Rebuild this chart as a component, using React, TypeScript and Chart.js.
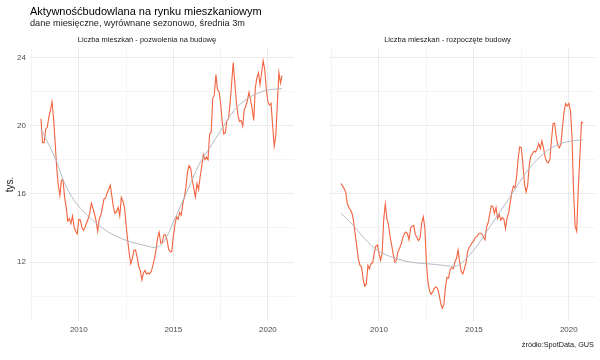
import React, { useEffect, useRef } from "react";
import { Chart, registerables } from "chart.js";

Chart.register(...registerables);

const FONT = "'Liberation Sans', Arial, Helvetica, sans-serif";
const FIRST_YEAR = 2008;

// Liczba mieszkań - pozwolenia na budowę (tys., monthly from Jan 2008)
const permitsValues = [
  20.4, 19.0, 19.0, 19.8, 19.9, 20.5, 20.9, 21.4, 20.4, 19.0, 17.5, 16.5,
  15.9, 16.8, 16.8, 15.8, 15.2, 14.4, 14.55, 14.25, 14.7, 14.05, 13.8, 13.65,
  14.5, 14.45, 14.0, 13.85, 14.05, 14.3, 14.55, 14.9, 15.45, 15.15, 14.8, 14.4,
  13.8, 14.55, 14.75, 15.2, 15.7, 15.75, 16.05, 16.25, 16.5, 15.85, 15.2, 14.85,
  14.95, 15.2, 14.7, 15.8, 15.55, 15.2, 14.2, 13.3, 12.5, 11.9, 12.2, 12.7,
  12.7, 12.3, 11.75, 11.5, 10.95, 11.35, 11.5, 11.3, 11.36, 11.3, 11.45, 11.8,
  12.2, 12.7, 13.4, 13.75, 13.1, 13.15, 13.6, 13.6, 13.3, 12.75, 12.6, 12.6,
  13.5, 14.2, 14.65, 14.5, 14.9, 14.75, 15.4, 15.8, 16.4, 17.3, 17.65, 17.5,
  16.8, 16.3, 15.8, 16.6, 16.25, 17.0, 17.6, 18.3, 18.0, 18.15, 18.0, 19.5,
  19.6, 21.6, 21.8, 23.0, 22.1, 22.0, 21.3, 20.2, 19.5, 19.6, 20.3, 20.4,
  21.3, 22.5, 23.7, 22.5, 21.4, 20.6, 20.25, 20.3, 19.96, 20.95, 21.15, 21.5,
  21.95, 21.5, 21.0, 20.3, 22.2, 22.8, 23.1, 22.4, 23.1, 23.8, 23.3, 22.1,
  21.4, 21.2, 21.3, 20.0, 18.8, 19.4, 21.3, 23.1, 22.5, 22.95,
];

// Liczba mieszkań - rozpoczęte budowy (tys., monthly from Jan 2008)
const startsValues = [
  16.6, 16.45, 16.3, 16.1, 15.4, 15.2, 15.05, 14.85, 14.35, 13.6, 12.9, 12.15,
  11.8, 11.7, 11.0, 10.58, 10.7, 11.8, 11.6, 11.9, 11.95, 12.5, 12.93, 13.0,
  12.5, 12.1, 12.5, 14.5, 15.4, 14.55, 14.2, 13.5, 13.0, 12.45, 12.0, 12.1,
  12.6, 12.8, 13.05, 13.4, 13.65, 13.76, 13.67, 13.3, 14.0, 14.1, 14.15, 13.6,
  13.45, 13.25, 13.4, 14.3, 14.65, 14.0, 11.9, 10.8, 10.3, 10.1, 10.25, 10.45,
  10.55, 10.45, 10.1, 9.6, 9.28, 9.5, 10.5, 11.1, 11.05, 11.55, 11.68, 11.6,
  12.0, 12.2, 12.7, 12.0, 11.45, 11.3, 11.6, 11.95, 12.6, 12.85, 13.0, 13.15,
  13.25, 13.45, 13.5, 13.65, 13.7, 13.65, 13.5, 13.3, 14.05, 14.3, 14.8, 15.3,
  15.25, 14.85, 15.2, 14.55, 14.8, 14.45, 14.6, 14.5, 13.95, 14.6, 14.9, 15.5,
  16.1, 16.45, 16.35, 17.0, 18.1, 18.75, 18.7, 17.7, 16.6, 16.1, 16.5, 17.7,
  18.2, 18.35, 18.5, 18.45, 18.65, 18.94, 18.65, 19.1, 18.7, 18.16, 17.87, 17.82,
  18.0, 19.1, 20.1, 20.15, 19.4, 18.85, 18.7, 18.9, 19.9, 20.8, 21.3, 21.15,
  21.3, 20.9, 19.4, 16.2, 14.1, 13.8, 16.3, 18.2, 20.2, 20.15,
];

// smoothed trend lines
const permitsTrendYears = [2008.0, 2008.8, 2009.22, 2009.75, 2010.46, 2011.16, 2011.87, 2012.57, 2012.93, 2013.63, 2013.98, 2014.34, 2014.69, 2015.04, 2015.4, 2015.75, 2016.1, 2016.45, 2016.9, 2017.51, 2018.22, 2018.92, 2019.63, 2020.16, 2020.75];
const permitsTrendValues = [19.8, 17.96, 16.7, 15.62, 14.74, 14.06, 13.57, 13.24, 13.12, 12.93, 12.85, 12.98, 13.57, 14.45, 15.33, 16.2, 17.1, 17.9, 18.65, 19.72, 20.9, 21.58, 21.97, 22.12, 22.16];
const startsTrendYears = [2008.0, 2008.63, 2009.16, 2009.68, 2010.21, 2010.91, 2011.62, 2012.5, 2013.02, 2013.9, 2014.17, 2014.6, 2015.13, 2015.66, 2016.19, 2016.89, 2017.77, 2018.47, 2019.17, 2019.87, 2020.75];
const startsTrendValues = [14.85, 14.16, 13.47, 12.89, 12.5, 12.2, 12.0, 11.9, 11.85, 11.75, 11.8, 12.2, 12.89, 13.76, 14.64, 15.8, 17.28, 18.16, 18.75, 19.04, 19.17];

const yTicks = [10, 12, 14, 16, 18, 20, 22, 24];
const yLabelled = [12, 16, 20, 24];
const xTicks = [2007.5, 2010, 2012.5, 2015, 2017.5, 2020];
const xLabelled = [2010, 2015, 2020];

const panelTitles = ["Liczba mieszkań - pozwolenia na budowę", "Liczba mieszkań - rozpoczęte budowy"];
const chartTitle = "Aktywnośćbudowlana na rynku mieszkaniowym";
const chartSubtitle = "dane miesięczne, wyrównane sezonowo, średnia 3m";
const yTitle = "tys.";
const caption = "źródło:SpotData, GUS";

const X_MIN = 2007.42;
const X_MAX = 2021.38;
const Y_MIN = 8.54;
const Y_MAX = 24.55;

const LINE_COLOR = "#F3633F";
const TREND_COLOR = "#A9B4BE";
const GRID_COLOR = "#EBEBEB";

function toPoints(values: number[]) {
  return values.map((v, i) => ({ x: FIRST_YEAR + i / 12, y: v }));
}

type PanelProps = {
  title: string;
  values: number[];
  trendX: number[];
  trendY: number[];
  showY: boolean;
  left: number;
  padRight: number;
};

function Panel({ title, values, trendX, trendY, showY, left, padRight }: PanelProps) {
  const ref = useRef<HTMLCanvasElement>(null);
  useEffect(() => {
    const chart = new Chart(ref.current as HTMLCanvasElement, {
      type: "line",
      data: {
        datasets: [
          {
            data: trendX.map((x, i) => ({ x, y: trendY[i] })),
            borderColor: TREND_COLOR,
            borderWidth: 0.9,
            pointRadius: 0,
            cubicInterpolationMode: "monotone",
            order: 0,
          } as any,
          {
            data: toPoints(values),
            borderColor: LINE_COLOR,
            borderWidth: 1.1,
            pointRadius: 0,
            tension: 0,
            order: 1,
          },
        ],
      },
      options: {
        animation: false,
        responsive: false,
        maintainAspectRatio: false,
        layout: { padding: { top: 30, right: padRight, bottom: 0, left: 0 } },
        plugins: {
          legend: { display: false },
          tooltip: { enabled: false },
          title: {
            display: true,
            text: title,
            color: "#1a1a1a",
            font: { size: 7.5, family: FONT, weight: "normal" },
            padding: { top: 5.5, bottom: 3.5 },
          },
        },
        scales: {
          x: {
            type: "linear",
            min: X_MIN,
            max: X_MAX,
            afterBuildTicks: (s: any) => {
              s.ticks = xTicks.map((v) => ({ value: v }));
            },
            afterFit: (s: any) => {
              s.height = 39;
            },
            ticks: {
              autoSkip: false,
              maxRotation: 0,
              padding: 3.5,
              color: "#4d4d4d",
              font: { size: 8, family: FONT },
              callback: (v: any) => (xLabelled.includes(Number(v)) ? String(v) : ""),
            },
            grid: {
              drawTicks: false,
              color: GRID_COLOR,
              lineWidth: (ctx: any) => (ctx.tick && xLabelled.includes(ctx.tick.value) ? 1 : 0.5),
            },
            border: { display: false },
          },
          y: {
            type: "linear",
            min: Y_MIN,
            max: Y_MAX,
            afterBuildTicks: (s: any) => {
              s.ticks = yTicks.map((v) => ({ value: v }));
            },
            afterFit: (s: any) => {
              s.width = 30;
            },
            title: {
              display: showY,
              text: yTitle,
              color: "#1a1a1a",
              font: { size: 10, family: FONT },
              padding: { top: 4, bottom: 0 },
            },
            ticks: {
              display: showY,
              autoSkip: false,
              padding: 4,
              color: "#4d4d4d",
              font: { size: 8, family: FONT },
              callback: (v: any) => (yLabelled.includes(Number(v)) ? String(v) : ""),
            },
            grid: {
              drawTicks: false,
              color: GRID_COLOR,
              lineWidth: (ctx: any) => (ctx.tick && yLabelled.includes(ctx.tick.value) ? 1 : 0.5),
            },
            border: { display: false },
          },
        },
      },
    });
    return () => chart.destroy();
  }, []);
  return (
    <canvas
      ref={ref}
      width={300}
      height={360}
      style={{ position: "absolute", left, top: 0, width: 300, height: 360 }}
    />
  );
}

export default function App() {
  return (
    <div
      style={{
        position: "fixed",
        left: 0,
        top: 0,
        width: 600,
        height: 360,
        background: "#ffffff",
        fontFamily: FONT,
        overflow: "hidden",
      }}
    >
      <Panel
        title={panelTitles[0]}
        values={permitsValues}
        trendX={permitsTrendYears}
        trendY={permitsTrendValues}
        showY={true}
        left={0}
        padRight={6}
      />
      <Panel
        title={panelTitles[1]}
        values={startsValues}
        trendX={startsTrendYears}
        trendY={startsTrendValues}
        showY={false}
        left={300}
        padRight={5}
      />
      <div style={{ position: "absolute", left: 30, top: 5, fontSize: 11, lineHeight: "normal", color: "#000", whiteSpace: "nowrap" }}>
        {chartTitle}
      </div>
      <div style={{ position: "absolute", left: 30, top: 18.4, fontSize: 9.2, lineHeight: "normal", color: "#1a1a1a", whiteSpace: "nowrap" }}>
        {chartSubtitle}
      </div>
      <div style={{ position: "absolute", right: 6, top: 340.4, fontSize: 7.3, lineHeight: "normal", color: "#1a1a1a", whiteSpace: "nowrap" }}>
        {caption}
      </div>
    </div>
  );
}
